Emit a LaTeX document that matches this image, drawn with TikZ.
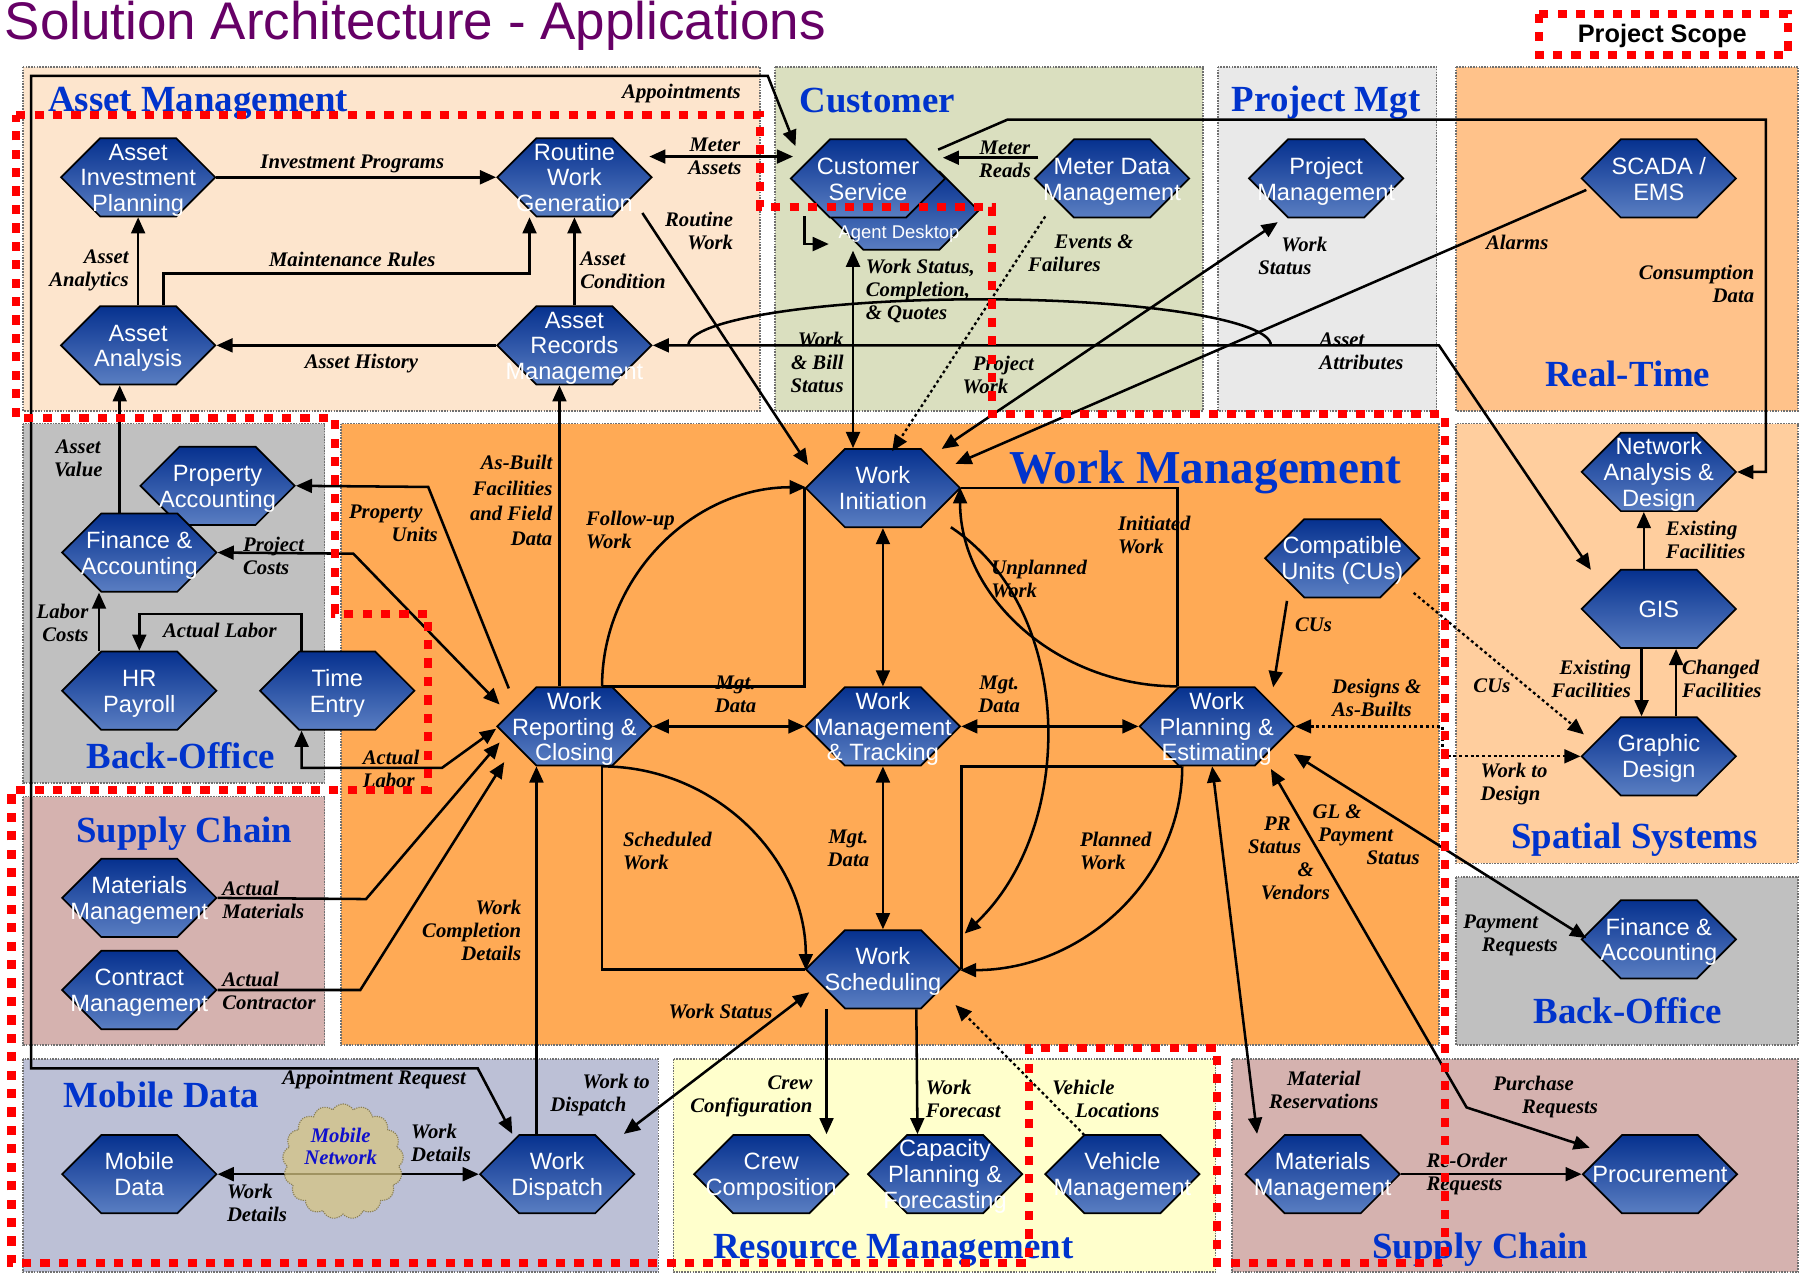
\documentclass[tikz,border=0pt]{standalone}
\usepackage{fontspec}
\setmainfont{Liberation Serif}
\setsansfont{Liberation Sans}
\usetikzlibrary{arrows.meta,positioning,shapes.symbols,calc}

\definecolor{archPurple}{HTML}{660066}
\definecolor{archBlue}{HTML}{0033CC}
\definecolor{netBlue}{HTML}{1010CC}
\definecolor{appTop}{HTML}{06318F}
\definecolor{appBot}{HTML}{5A7EC2}
\definecolor{panelEdge}{HTML}{707070}
\definecolor{fillAsset}{HTML}{FDE5CD}
\definecolor{fillCustomer}{HTML}{DADFBF}
\definecolor{fillProject}{HTML}{E9E9E9}
\definecolor{fillRealTime}{HTML}{FFC28A}
\definecolor{fillBack}{HTML}{C0C0C0}
\definecolor{fillWork}{HTML}{FFAA55}
\definecolor{fillSpatial}{HTML}{FFCE9E}
\definecolor{fillSupply}{HTML}{D5B2AF}
\definecolor{fillMobile}{HTML}{BCC0D6}
\definecolor{fillResource}{HTML}{FFFFCC}
\definecolor{cloudFill}{HTML}{D6C582}
\definecolor{cloudEdge}{HTML}{8A7F55}

\newcommand{\appname}[1]{\makebox[0pt]{\raisebox{-3pt}[\height][\depth]{\begin{tabular}{@{}c@{}}#1\end{tabular}}}}

\tikzset{
  arch/panel/.style={draw=panelEdge, densely dotted, line width=1.4pt},
  arch/title/.style={inner sep=0pt, anchor=base, text=archBlue, font=\bfseries\fontsize{32}{34}\selectfont},
  arch/app/.style={signal, signal to=west and east, signal pointer angle=90,
    draw=black, line width=1.5pt, top color=appTop, bottom color=appBot,
    minimum width=134pt, minimum height=68pt, inner sep=0pt,
    text=white, font=\sffamily\fontsize{20.5}{22.5}\selectfont},
  arch/flow/.style={line width=2.2pt},
  arch/feed/.style={line width=2pt, dash pattern=on 2.5pt off 2.5pt},
  arch/lbl/.style={inner sep=0pt, font=\bfseries\itshape\fontsize{18}{20}\selectfont},
  arch/scope/.style={draw=red, line width=7pt, dash pattern=on 8pt off 8pt}
}

\begin{document}
\begin{tikzpicture}[x=1pt, y=-1pt, >={Triangle[length=14pt,width=12pt]}]
  \useasboundingbox (0,0) rectangle (1568,1108);

  % application areas
  \foreach \xa/\ya/\xb/\yb/\tone in {20/58/660/357/fillAsset, 673/58/1045/357/fillCustomer,
      1058/58/1248/357/fillProject, 1265/58/1562/357/fillRealTime, 20/368/282/680/fillBack,
      296/368/1250/908/fillWork, 1265/368/1562/750/fillSpatial, 1265/762/1562/908/fillBack,
      20/692/282/908/fillSupply, 20/920/572/1105/fillMobile, 585/920/1056/1105/fillResource,
      1070/920/1562/1105/fillSupply}
    \draw[arch/panel, fill=\tone] (\xa,\ya) rectangle (\xb,\yb);

  \node[anchor=base west, inner sep=0pt, text=archPurple, font=\sffamily\fontsize{46}{49}\selectfont] (heading) at (4,34) {Solution Architecture - Applications};

  \node[arch/title] (tAsset) at (172,97) {Asset Management};
  \node[arch/title] (tCustomer) at (762,98) {Customer};
  \node[arch/title] (tProject) at (1152,97) {Project Mgt};
  \node[arch/title] (tRealTime) at (1414,336) {Real-Time};
  \node[arch/title] (tBackL) at (157,668) {Back-Office};
  \node[arch/title, font=\bfseries\fontsize{41}{43}\selectfont] (tWork) at (1047,420) {Work Management};
  \node[arch/title] (tSpatial) at (1420,737) {Spatial Systems};
  \node[arch/title] (tBackR) at (1414,889) {Back-Office};
  \node[arch/title] (tSupplyL) at (160,732) {Supply Chain};
  \node[arch/title] (tMobile) at (140,962) {Mobile Data};
  \node[arch/title] (tResource) at (776,1093) {Resource Management};
  \node[arch/title] (tSupplyR) at (1286,1093) {Supply Chain};

  % applications
  \node[arch/app] (aip) at (120,154) {\appname{Asset\\Investment\\Planning}};
  \node[arch/app] (rwg) at (499,154) {\appname{Routine\\Work\\Generation}};
  \node[arch/app] (aa) at (120,300) {\appname{Asset\\Analysis}};
  \node[arch/app] (arm) at (499,300) {\appname{Asset\\Records\\Management}};
  \node[arch/app] (ad) at (783,183) {};
  \node[inner sep=0pt, text=white, font=\sffamily\fontsize{16}{18}\selectfont] (adText) at (781,203) {Agent Desktop};
  \node[arch/app] (cs) at (754,155) {\appname{Customer\\Service}};
  \node[arch/app] (mdm) at (966,155) {\appname{Meter Data\\Management}};
  \node[arch/app] (pm) at (1152,155) {\appname{Project\\Management}};
  \node[arch/app] (scada) at (1441,155) {\appname{SCADA /\\EMS}};
  \node[arch/app] (pa) at (189,422) {\appname{Property\\Accounting}};
  \node[arch/app] (fa) at (121,480) {\appname{Finance \&\\Accounting}};
  \node[arch/app] (hr) at (121,600) {\appname{HR\\Payroll}};
  \node[arch/app] (te) at (293,600) {\appname{Time\\Entry}};
  \node[arch/app] (mm1) at (121,780) {\appname{Materials\\Management}};
  \node[arch/app] (cm) at (121,860) {\appname{Contract\\Management}};
  \node[arch/app] (md) at (121,1020) {\appname{Mobile\\Data}};
  \node[arch/app] (wd) at (484,1020) {\appname{Work\\Dispatch}};
  \node[arch/app] (wi) at (767,424) {\appname{Work\\Initiation}};
  \node[arch/app] (wmt) at (767,631) {\appname{Work\\Management\\\& Tracking}};
  \node[arch/app] (ws) at (767,842) {\appname{Work\\Scheduling}};
  \node[arch/app] (wrc) at (499,631) {\appname{Work\\Reporting \&\\Closing}};
  \node[arch/app] (wpe) at (1057,631) {\appname{Work\\Planning \&\\Estimating}};
  \node[arch/app] (cu) at (1166,485) {\appname{Compatible\\Units (CUs)}};
  \node[arch/app] (nad) at (1441,410) {\appname{Network\\Analysis \&\\Design}};
  \node[arch/app] (gis) at (1441,529) {\appname{GIS}};
  \node[arch/app] (gd) at (1441,657) {\appname{Graphic\\Design}};
  \node[arch/app] (fa2) at (1441,816) {\appname{Finance \&\\Accounting}};
  \node[arch/app] (cc) at (670,1020) {\appname{Crew\\Composition}};
  \node[arch/app] (cpf) at (821,1020) {\appname{Capacity\\Planning \&\\Forecasting}};
  \node[arch/app] (vm) at (975,1020) {\appname{Vehicle\\Management}};
  \node[arch/app] (mm2) at (1149,1020) {\appname{Materials\\Management}};
  \node[arch/app] (proc) at (1442,1020) {\appname{Procurement}};

  % asset management flows
  \draw[arch/flow, ->] (aip.east) -- (rwg.west);
  \draw[arch/flow, ->] (aa.north) -- (aip.south);
  \draw[arch/flow, ->] ($(aa.north)+(22,0)$) |- ($(rwg.south)+(-39,49)$) -- ($(rwg.south)+(-39,0)$);
  \draw[arch/flow, ->] (arm.north) -- (rwg.south);
  \draw[arch/flow, ->] (arm.west) -- (aa.east);
  \draw[arch/flow, <->] ($(rwg.east)+(-3,-18)$) -- ($(cs.west)+(3,-19)$);
  \draw[arch/flow, ->] ($(rwg)+(59,31)$) -- ($(wi)+(-65,-20)$);
  \draw[arch/flow, <->] ($(cs)+(-63,-28)$) -- (667,66) -- (27,66) -- (27,928) -- (415,928) -- ($(wd)+(-39,-35)$);

  % customer, project and real-time flows
  \draw[arch/flow, ->] ($(mdm.west)+(4,-18)$) -- ($(cs.east)+(-3,-18)$);
  \draw[arch/flow, ->] ($(cs)+(61,-25)$) -- (875,104) -- (1534,104) |- (nad.east);
  \draw[arch/feed, ->] ($(mdm)+(-58,33)$) -- ($(wi)+(8,-32)$);
  \draw[arch/flow, <->] ($(ad.south)+(-42,0)$) -- ($(wi.north)+(-26,0)$);
  \draw[arch/flow, ->] ($(cs)+(-55,33)$) |- ($(ad)+(-63,29)$);
  \draw[arch/flow, <->] (arm.east) -- (1250,300) -- ($(gis)+(-59,-34)$);
  \draw[arch/flow] (598,300) arc[start angle=180, end angle=360, x radius=253, y radius=40];
  \draw[arch/flow, <->] ($(wi)+(51,-34)$) -- ($(pm)+(-42,38)$);
  \draw[arch/flow, ->] ($(scada)+(-63,10)$) -- ($(wi)+(63,-21)$);

  % work management core
  \draw[arch/flow] ($(wrc.north)+(24,0)$) -| (wi.west);
  \draw[arch/flow, ->] ($(wrc.north)+(24,0)$) arc[start angle=180, end angle=270, x radius=177, y radius=173];
  \draw[arch/flow] (wi.east) -| ($(wpe.north)+(-34,0)$);
  \draw[arch/flow, ->] ($(wpe.north)+(-34,0)$) arc[start angle=90, end angle=180, x radius=189, y radius=173];
  \draw[arch/flow, ->] ($(wi)+(59,34)$) .. controls (935,530) and (935,720) .. ($(ws)+(71,-31)$);
  \draw[arch/flow] ($(wpe.south)+(-30,0)$) -| (ws.east);
  \draw[arch/flow, ->] ($(wpe.south)+(-30,0)$) arc[start angle=0, end angle=90, x radius=193, y radius=177];
  \draw[arch/flow] ($(wrc.south)+(24,0)$) |- (ws.west);
  \draw[arch/flow, ->] ($(wrc.south)+(24,0)$) arc[start angle=270, end angle=360, x radius=177, y radius=177];
  \draw[arch/flow, <->] (wi.south) -- (wmt.north);
  \draw[arch/flow, <->] (wmt.south) -- (ws.north);
  \draw[arch/flow, <->] (wrc.east) -- (wmt.west);
  \draw[arch/flow, <->] (wmt.east) -- (wpe.west);
  \draw[arch/flow, ->] ($(cu)+(-48,37)$) -- ($(wpe)+(49,-34)$);
  \draw[arch/feed, <->] (wpe.east) -- (1253,631) |- (gd.west);
  \draw[arch/feed, ->] ($(cu)+(62,30)$) -- ($(gd)+(-65,-19)$);
  \draw[arch/flow, <->] ($(wpe.south)+(-4,0)$) -- ($(mm2)+(-57,-35)$);
  \draw[arch/flow, <->] ($(wpe)+(67,24)$) -- ($(fa2)+(-63,-1)$);
  \draw[arch/flow, <->] ($(wpe)+(47,37)$) -- (1274,962) -- ($(proc)+(-61,-23)$);
  \draw[arch/flow, ->] (mm2.east) -- (proc.west);

  % back-office and supply chain
  \draw[arch/flow, ->] ($(fa.north)+(-17,0)$) -- ($(aa.south)+(-16,0)$);
  \draw[arch/flow, ->] ($(wrc)+(-57,-33)$) -- (372,423) -- (pa.east);
  \draw[arch/flow, <->] (fa.east) -- (307,481) -- ($(wrc)+(-65,-19)$);
  \draw[arch/flow, ->] ($(hr.north)+(-35,0)$) -- ($(fa.south)+(-35,0)$);
  \draw[arch/flow, ->] ($(te.north)+(-31,0)$) -- ++(0,-32) -| (hr.north);
  \draw[arch/flow, <->] ($(wrc)+(-68,2)$) -- (384,667) -| ($(te.south)+(-31,0)$);
  \draw[arch/flow, ->] (mm1.east) -- (318,781) -- ($(wrc)+(-65,14)$);
  \draw[arch/flow, ->] (cm.east) -- (313,860) -- ($(wrc)+(-61,31)$);
  \draw[arch/flow, ->] ($(wd.north)+(-18,0)$) -- ($(wrc.south)+(-33,0)$);
  \draw[arch/flow, ->] ($(wrc.north)+(-13,0)$) -- ($(arm.south)+(-13,0)$);

  % mobile and resources
  \draw[arch/flow, <->] (md.east) -- (wd.west);
  \draw[arch/flow, <->] ($(ws)+(-64,20)$) -- ($(wd)+(58,-35)$);
  \draw[arch/flow, ->] ($(ws.south)+(-49,0)$) -- ($(cc.north)+(48,0)$);
  \draw[arch/flow, ->] ($(ws.south)+(29,0)$) -- ($(cpf.north)+(-24,0)$);
  \draw[arch/feed, ->] ($(vm)+(-33,-34)$) -- ($(ws)+(63,31)$);

  % spatial
  \draw[arch/flow, ->] ($(gis.north)+(-13,0)$) -- ($(nad.south)+(-13,0)$);
  \draw[arch/flow, ->] ($(gis.south)+(-15,0)$) -- ($(gd.north)+(-15,0)$);
  \draw[arch/flow, ->] ($(gd.north)+(15,0)$) -- ($(gis.south)+(15,0)$);

  \node[cloud, cloud puffs=17, cloud puff arc=120, aspect=1.05, draw=cloudEdge, line width=1pt, densely dotted,
    fill=cloudFill, fill opacity=0.75, minimum width=105pt, minimum height=100pt, inner sep=0pt] (net) at (298,1009) {};
  \node[align=center, inner sep=0pt, text=netBlue, font=\bfseries\itshape\fontsize{18}{19}\selectfont] (netText) at (296,996) {Mobile\\Network};

  % flow labels
  \node[arch/lbl] (lAppoint) at (592,81) {Appointments};
  \node[arch/lbl] (lInvest) at (306,142) {Investment Programs};
  \node[arch/lbl, align=center] (lMeterA) at (621,136) {Meter\\Assets};
  \node[arch/lbl, align=right, anchor=east] (lRoutine) at (637,201) {Routine\\Work};
  \node[arch/lbl, align=right, anchor=east] (lAnalytics) at (112,235) {Asset\\Analytics};
  \node[arch/lbl] (lRules) at (306,225) {Maintenance Rules};
  \node[arch/lbl, align=left, anchor=west] (lCondition) at (504,235) {Asset\\Condition};
  \node[arch/lbl] (lHistory) at (314,316) {Asset History};
  \node[arch/lbl, align=center] (lReads) at (873,138) {Meter\\Reads};
  \node[arch/lbl, align=left, anchor=west] (lEvents) at (893,220) {\hspace*{23pt}Events \&\\Failures};
  \node[arch/lbl, align=left, anchor=west] (lQuotes) at (752,253) {Work Status,\\Completion,\\\& Quotes};
  \node[arch/lbl, align=right, anchor=east] (lBill) at (733,315) {Work\\\& Bill\\Status};
  \node[arch/lbl, align=left, anchor=west] (lProjWork) at (836,326) {\hspace*{9pt}Project\\Work};
  \node[arch/lbl, align=left, anchor=west] (lPmStatus) at (1093,222) {\hspace*{20pt}Work\\Status};
  \node[arch/lbl] (lAlarms) at (1318,211) {Alarms};
  \node[arch/lbl, align=right, anchor=east] (lConsume) at (1524,247) {Consumption\\Data};
  \node[arch/lbl, align=left, anchor=west] (lAttrib) at (1146,305) {Asset\\Attributes};
  \node[arch/lbl, align=center] (lValue) at (68,398) {Asset\\Value};
  \node[arch/lbl, align=left, anchor=west] (lPropUnits) at (303,455) {Property\\\hspace*{37pt}Units};
  \node[arch/lbl, align=left, anchor=west] (lProjCost) at (211,483) {Project\\Costs};
  \node[arch/lbl, align=right, anchor=east] (lLaborCost) at (77,541) {Labor\\Costs};
  \node[arch/lbl] (lActLabor) at (191,548) {Actual Labor};
  \node[arch/lbl, align=left, anchor=west] (lActLabor2) at (315,668) {Actual\\Labor};
  \node[arch/lbl, align=right, anchor=east, font=\bfseries\itshape\fontsize{18}{22}\selectfont] (lAsBuilt) at (480,435) {As-Built\\Facilities\\and Field\\Data};
  \node[arch/lbl, align=left, anchor=west] (lFollow) at (509,460) {Follow-up\\Work};
  \foreach \px/\py [count=\k] in {639/603, 868/603, 737/737}
    \node[arch/lbl, align=center] (lMgt\k) at (\px,\py) {Mgt.\\Data};
  \node[arch/lbl, align=left, anchor=west] (lInitiated) at (971,465) {Initiated\\Work};
  \node[arch/lbl, align=left, anchor=west] (lUnplanned) at (861,503) {Unplanned\\Work};
  \node[arch/lbl] (lCUs) at (1141,543) {CUs};
  \node[arch/lbl, align=left, anchor=west] (lDesigns) at (1157,606) {Designs \&\\As-Builts};
  \node[arch/lbl, align=left, anchor=west] (lScheduled) at (541,739) {Scheduled\\Work};
  \node[arch/lbl, align=left, anchor=west] (lPlanned) at (938,739) {Planned\\Work};
  \node[arch/lbl, align=left, anchor=west] (lPR) at (1084,746) {\hspace*{14pt}PR\\Status\\\hspace*{43pt}\&\\\hspace*{11pt}Vendors};
  \node[arch/lbl, align=left, anchor=west] (lGL) at (1140,725) {GL \&\\\hspace*{5pt}Payment\\\hspace*{47pt}Status};
  \node[arch/lbl, align=right, anchor=east] (lCompletion) at (453,808) {Work\\Completion\\Details};
  \node[arch/lbl, align=left, anchor=west] (lActMat) at (193,782) {Actual\\Materials};
  \node[arch/lbl, align=left, anchor=west] (lActCon) at (193,861) {Actual\\Contractor};
  \node[arch/lbl] (lWsStatus) at (626,879) {Work Status};
  \node[arch/lbl] (lApptReq) at (325,938) {Appointment Request};
  \node[arch/lbl, align=left, anchor=west] (lToDispatch) at (478,951) {\hspace*{28pt}Work to\\Dispatch};
  \node[arch/lbl, align=left, anchor=west] (lDetailsA) at (357,993) {Work\\Details};
  \node[arch/lbl, align=left, anchor=west] (lDetailsB) at (197,1045) {Work\\Details};
  \node[arch/lbl, align=right, anchor=east] (lCrew) at (706,952) {Crew\\Configuration};
  \node[arch/lbl, align=left, anchor=west] (lForecast) at (804,955) {Work\\Forecast};
  \node[arch/lbl, align=left, anchor=west] (lVehicle) at (914,955) {Vehicle\\\hspace*{20pt}Locations};
  \node[arch/lbl, align=center] (lReserve) at (1150,947) {Material\\Reservations};
  \node[arch/lbl, align=left, anchor=west] (lPurchase) at (1297,953) {Purchase\\\hspace*{25pt}Requests};
  \node[arch/lbl, align=left, anchor=west] (lReorder) at (1239,1020) {Re-Order\\Requests};
  \node[arch/lbl, align=left, anchor=west] (lPayReq) at (1271,813) {Payment\\\hspace*{16pt}Requests};
  \node[arch/lbl, align=left, anchor=west] (lToDesign) at (1286,681) {Work to\\Design};
  \node[arch/lbl] (lCUsB) at (1296,596) {CUs};
  \node[arch/lbl, align=left, anchor=west] (lExistA) at (1447,469) {Existing\\Facilities};
  \node[arch/lbl, align=right, anchor=east] (lExistB) at (1417,590) {Existing\\Facilities};
  \node[arch/lbl, align=left, anchor=west] (lChanged) at (1461,590) {Changed\\Facilities};

  % project scope
  \draw[arch/scope] (14,100) -- (660,100) -- (660,180) -- (862,180) -- (862,360) -- (1255,360)
    -- (1255,1097) -- (1057,1097) -- (1057,910) -- (894,910) -- (894,1097) -- (10,1097)
    -- (10,686) -- (372,686) -- (372,533) -- (291,533) -- (291,363) -- (14,363) -- cycle;
  \draw[arch/scope] (1337,12) rectangle (1553,48);
  \node[inner sep=0pt, font=\sffamily\bfseries\fontsize{22}{24}\selectfont] (scopeKey) at (1444,31) {Project Scope};
\end{tikzpicture}
\end{document}
